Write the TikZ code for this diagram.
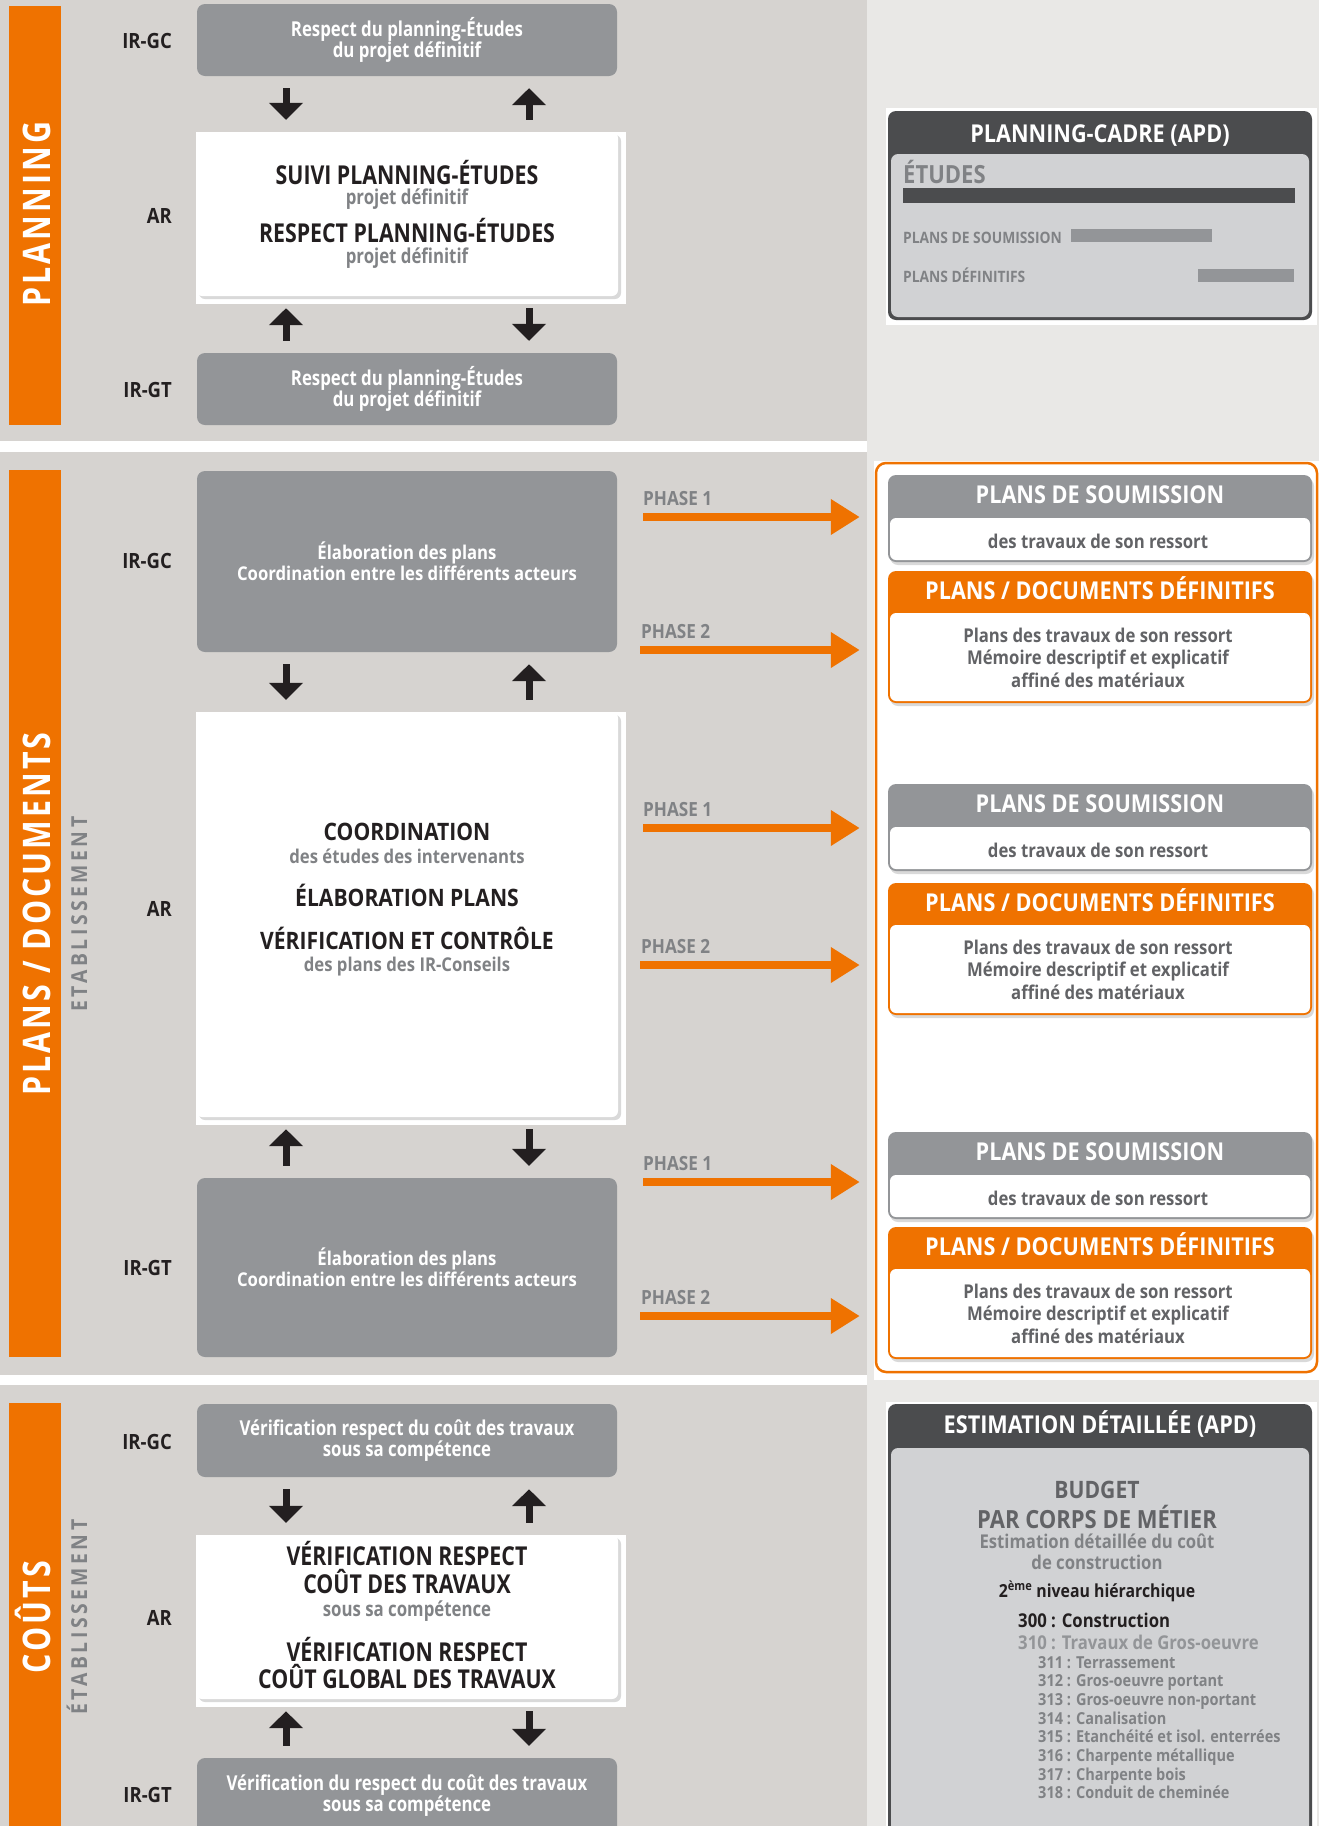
\documentclass[tikz,border=0pt]{standalone}
\usepackage{fontspec}
\setmainfont[FakeStretch=0.88]{Open Sans}
\newfontfamily\fnorm[FakeStretch=0.88]{Open Sans}
\newfontfamily\fcond[FakeStretch=0.82]{Open Sans}
\newfontfamily\fbar[FakeStretch=0.8,LetterSpace=8]{Open Sans}
\newfontfamily\fspace[FakeStretch=0.88,LetterSpace=16]{Open Sans}
\usetikzlibrary{arrows.meta,shadows}

\newcommand{\fsz}[2]{\fontsize{#1}{#2}\selectfont}

\definecolor{orng}{RGB}{239,114,0}
\definecolor{boxgray}{RGB}{147,149,152}
\definecolor{panelbg}{RGB}{214,211,208}
\definecolor{rightbg}{RGB}{233,232,230}
\definecolor{darkhead}{RGB}{75,76,78}
\definecolor{lightpanel}{RGB}{209,210,212}
\definecolor{txtdark}{RGB}{35,31,32}
\definecolor{subgray}{RGB}{128,130,133}
\definecolor{bodygray}{RGB}{98,99,102}

\begin{document}
\begin{tikzpicture}[x=1pt,y=-1pt,inner sep=0pt,
    gbox/.style={rectangle,rounded corners=8pt,fill=boxgray,minimum width=420pt,align=center,text=white},
    wcard/.style={rectangle,rounded corners=6pt,fill=white,minimum width=422pt,
        drop shadow={shadow xshift=3pt,shadow yshift=-3pt,fill=black,opacity=.15}},
    darkbox/.style={rectangle,rounded corners=8pt,fill=darkhead,minimum width=424pt},
    subcard/.style={rectangle,rounded corners=8pt,fill=boxgray,minimum width=424pt,
        drop shadow={shadow xshift=2pt,shadow yshift=-3pt,fill=black,opacity=.15}},
    defcard/.style={subcard,fill=orng},
    lbl/.style={anchor=base east,font=\fnorm\bfseries\fsz{21}{24},text=txtdark},
    cbig/.style={anchor=base,font=\fcond\bfseries\fsz{26}{29},text=txtdark},
    csub/.style={anchor=base,font=\fcond\bfseries\fsz{20.5}{23},text=subgray},
    nbig/.style={anchor=base,font=\fnorm\bfseries\fsz{24}{27},text=txtdark},
    nsub/.style={anchor=base,font=\fnorm\bfseries\fsz{19}{21},text=subgray},
    headtxt/.style={anchor=base,font=\fnorm\bfseries\fsz{24.6}{27},text=white},
    cardhead/.style={anchor=base,font=\fnorm\bfseries\fsz{24.6}{27},text=white},
    cardbody/.style={anchor=base,font=\fnorm\bfseries\fsz{19}{21},text=bodygray},
    bartxt/.style={anchor=base,rotate=90,font=\fbar\bfseries\fsz{38}{40},text=white},
    etab/.style={anchor=base,rotate=90,font=\fspace\bfseries\fsz{22}{24},text=subgray},
    fatarrow/.style={line width=7pt,draw=txtdark,-{Triangle[width=33pt,length=17pt]},shorten <=12pt,shorten >=12pt},
    phase/.style={line width=8pt,draw=orng,-{Triangle[width=34pt,length=29pt]},shorten >=15pt},
    phlbl/.style={anchor=base west,font=\fnorm\bfseries\fsz{19.5}{21},text=subgray}
]
\useasboundingbox (0,0) rectangle (1319,1826);

% === Backgrounds ===
\fill[rightbg] (0,0) rectangle (1319,1826);
\fill[white] (0,0) rectangle (867,1826);
\foreach \ya/\yb in {0/441,452/1375,1385/1826}
    \fill[panelbg] (0,\ya) rectangle (867,\yb);
\foreach \ya/\yb in {6/425,470/1357,1403/1826}
    \fill[orng] (9,\ya) rectangle (61,\yb);

% === Side titles ===
\node[bartxt] (tplan) at (50,214) {PLANNING};
\node[bartxt] (tdoc) at (50,914) {PLANS / DOCUMENTS};
\node[bartxt] (tcout) at (50,1617) {COÛTS};
\node[etab] (etab2) at (87,914) {ETABLISSEMENT};
\node[etab] (etab3) at (87,1617) {ÉTABLISSEMENT};

% === PLANNING ===
\node[gbox,minimum height=72pt,font=\fcond\bfseries\fsz{20.5}{21}] (gc1) at (407,40)
    {Respect du planning-Études\\du projet définitif};
\fill[white] (196,132) rectangle (626,304);
\node[wcard,minimum height=164pt] (ar1) at (407,214) {};
\node[cbig] (ar1a) at (407,184) {SUIVI PLANNING-ÉTUDES};
\node[csub] (ar1b) at (407,204) {projet définitif};
\node[cbig] (ar1c) at (407,242) {RESPECT PLANNING-ÉTUDES};
\node[csub] (ar1d) at (407,263) {projet définitif};
\node[gbox,minimum height=72pt,font=\fcond\bfseries\fsz{20.5}{21}] (gt1) at (407,389)
    {Respect du planning-Études\\du projet définitif};

% planning-cadre
\fill[white] (886,108) rectangle (1317,325);
\node[darkbox,minimum height=209pt] (cadre) at (1100,215.5) {};
\fill[lightpanel,rounded corners=7pt] (891,154) rectangle (1309,317);
\node[headtxt] (cadret) at (1100,142) {PLANNING-CADRE (APD)};
\node[anchor=base west,font=\fnorm\bfseries\fsz{25}{28},text=subgray] (etudes) at (903,183) {ÉTUDES};
\fill[darkhead] (903,188) rectangle (1295,203);
\node[anchor=base west,font=\fnorm\bfseries\fsz{15.7}{17},text=subgray] (psoum) at (903,243) {PLANS DE SOUMISSION};
\fill[boxgray] (1071,229) rectangle (1212,242);
\node[anchor=base west,font=\fnorm\bfseries\fsz{15.7}{17},text=subgray] (pdef) at (903,282) {PLANS DÉFINITIFS};
\fill[boxgray] (1198,269) rectangle (1294,282);

% === PLANS / DOCUMENTS ===
\node[gbox,minimum height=181pt,font=\fnorm\bfseries\fsz{19}{21}] (gc2) at (407,561.5)
    {Élaboration des plans\\Coordination entre les différents acteurs};
\fill[white] (196,712) rectangle (626,1125);
\node[wcard,minimum height=405pt] (ar2) at (407,914.5) {};
\node[nbig] (ar2a) at (407,840) {COORDINATION};
\node[nsub] (ar2b) at (407,863) {des études des intervenants};
\node[nbig] (ar2c) at (407,906) {ÉLABORATION PLANS};
\node[nbig] (ar2d) at (407,949) {VÉRIFICATION ET CONTRÔLE};
\node[nsub] (ar2e) at (407,971) {des plans des IR-Conseils};
\node[gbox,minimum height=179pt,font=\fnorm\bfseries\fsz{19}{21}] (gt2) at (407,1267.5)
    {Élaboration des plans\\Coordination entre les différents acteurs};

% documents frame
\fill[white] (874,461) rectangle (1319,1380);
\node[draw=orng,line width=2.5pt,fill=white,rounded corners=10pt,minimum width=441pt,minimum height=909pt] (docframe) at (1096.5,917.5) {};
\foreach \gy/\oy/\pa/\pb [count=\i] in {475/571/517/650,784/883/828/965,1132/1227/1182/1316} {
    \node[subcard,minimum height=87pt] (sub\i) at (1100,\gy+43.5) {};
    \fill[white,rounded corners=6pt] (890,\gy+43) rectangle (1310,\gy+85);
    \node[cardhead] (subt\i) at (1100,\gy+28.5) {PLANS DE SOUMISSION};
    \node[cardbody] (subb\i) at (1098,\gy+73) {des travaux de son ressort};
    \node[defcard,minimum height=132pt] (def\i) at (1100,\oy+66) {};
    \fill[white,rounded corners=6pt] (890,\oy+42) rectangle (1310,\oy+130);
    \node[cardhead] (deft\i) at (1100,\oy+28) {PLANS / DOCUMENTS DÉFINITIFS};
    \foreach \ln/\dy [count=\j] in {Plans des travaux de son ressort/71.5,Mémoire descriptif et explicatif/93.5,affiné des matériaux/116}
        \node[cardbody] (defb\i\j) at (1098,\oy+\dy) {\ln};
    % phase arrows
    \coordinate (pa\i) at (643,\pa);
    \coordinate (pb\i) at (640,\pb);
    \node[phlbl] (pla\i) at (643,\pa-12) {PHASE 1};
    \node[phlbl] (plb\i) at (641,\pb-12) {PHASE 2};
    \draw[phase] (pa\i) -- (pa\i -| docframe.west);
    \draw[phase] (pb\i) -- (pb\i -| docframe.west);
}

% === COUTS ===
\node[gbox,minimum height=73pt,font=\fcond\bfseries\fsz{20.5}{21}] (gc3) at (407,1440.5)
    {Vérification respect du coût des travaux\\sous sa compétence};
\fill[white] (196,1535) rectangle (626,1707);
\node[wcard,minimum height=164pt] (ar3) at (407,1617) {};
\node[cbig] (ar3a) at (407,1565) {VÉRIFICATION RESPECT};
\node[cbig] (ar3b) at (407,1593) {COÛT DES TRAVAUX};
\node[csub] (ar3c) at (407,1616) {sous sa compétence};
\node[cbig] (ar3d) at (407,1661) {VÉRIFICATION RESPECT};
\node[cbig] (ar3e) at (407,1688) {COÛT GLOBAL DES TRAVAUX};
\node[gbox,minimum height=76pt,font=\fcond\bfseries\fsz{20.5}{21}] (gt3) at (407,1796)
    {Vérification du respect du coût des travaux\\sous sa compétence};

% estimation
\fill[white] (886,1402) rectangle (1317,1826);
\node[darkbox,minimum height=440pt] (estim) at (1100,1624) {};
\fill[lightpanel,rounded corners=7pt] (891,1448) rectangle (1309,1850);
\node[headtxt] (estimt) at (1100,1433) {ESTIMATION DÉTAILLÉE (APD)};
\node[anchor=base,font=\fnorm\bfseries\fsz{24}{27},text=bodygray] (budget) at (1097,1498) {BUDGET};
\node[anchor=base,font=\fnorm\bfseries\fsz{25}{27},text=bodygray] (corps) at (1097,1528) {PAR CORPS DE MÉTIER};
\node[anchor=base,font=\fnorm\bfseries\fsz{19}{21},text=subgray] (estc1) at (1097,1548) {Estimation détaillée du coût};
\node[anchor=base,font=\fnorm\bfseries\fsz{19}{21},text=subgray] (estc2) at (1097,1569) {de construction};
\node[anchor=base,font=\fnorm\bfseries\fsz{18}{20},text=txtdark] (niveau) at (1097,1597) {2\textsuperscript{ème} niveau hiérarchique};
\node[anchor=base west,font=\fnorm\bfseries\fsz{19}{21},text=txtdark] (c300) at (1018,1627) {300 : Construction};
\node[anchor=base west,font=\fnorm\bfseries\fsz{19}{21},text=boxgray] (c310) at (1018,1649) {310 : Travaux de Gros-oeuvre};
\foreach \txt [count=\k from 0] in {311 : Terrassement,312 : Gros-oeuvre portant,313 : Gros-oeuvre non-portant,314 : Canalisation,315 : Etanchéité et isol. enterrées,316 : Charpente métallique,317 : Charpente bois,318 : Conduit de cheminée}
    \node[anchor=base west,font=\fnorm\bfseries\fsz{16.5}{18},text=subgray] (item\k) at (1038,1668+18.7*\k) {\txt};

% === Labels and arrows ===
\foreach \s/\ya/\yb/\yc in {1/48/223/397,2/568/916/1275,3/1449/1625/1802} {
    \node[lbl] (lgc\s) at (172,\ya) {IR-GC};
    \node[lbl] (lar\s) at (172,\yb) {AR};
    \node[lbl] (lgt\s) at (172,\yc) {IR-GT};
    \draw[fatarrow] ([xshift=-121pt]gc\s.south) -- ([xshift=-121pt]ar\s.north);
    \draw[fatarrow] ([xshift=122pt]ar\s.north) -- ([xshift=122pt]gc\s.south);
    \draw[fatarrow] ([xshift=-121pt]gt\s.north) -- ([xshift=-121pt]ar\s.south);
    \draw[fatarrow] ([xshift=122pt]ar\s.south) -- ([xshift=122pt]gt\s.north);
}

\end{tikzpicture}
\end{document}
